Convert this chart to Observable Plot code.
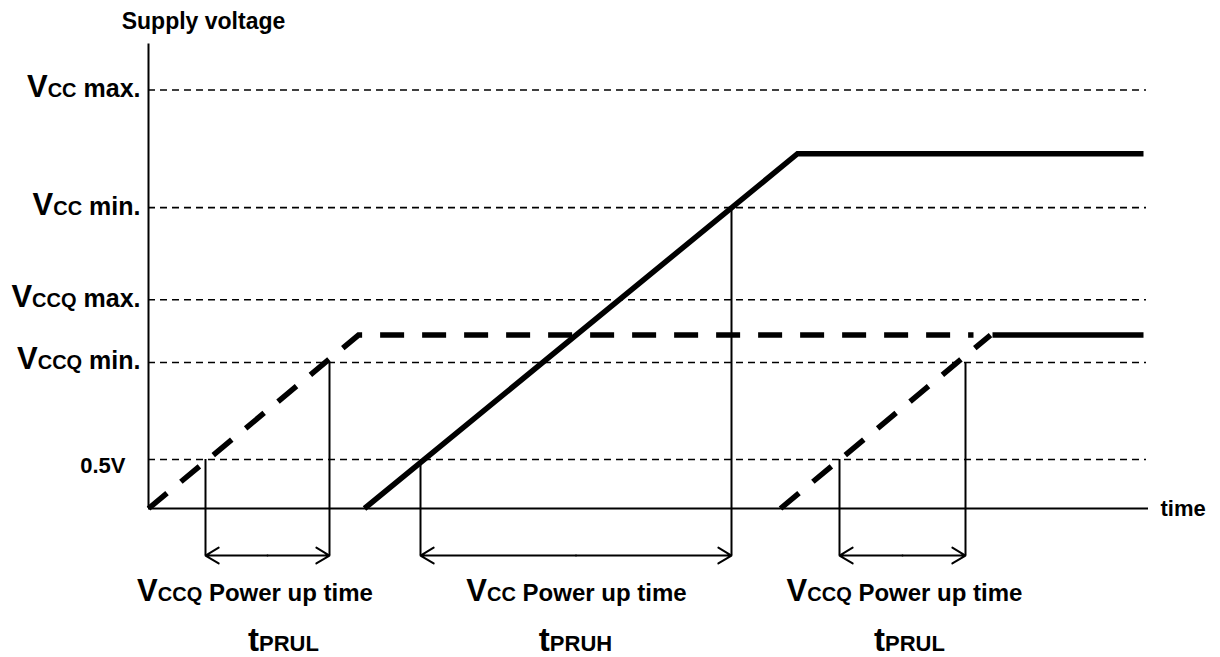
<!DOCTYPE html>
<html><head><meta charset="utf-8">
<script src="https://cdn.jsdelivr.net/npm/d3@7"></script>
<script src="https://cdn.jsdelivr.net/npm/@observablehq/plot@0.6"></script>
<style>body{margin:0;background:#fff;} svg{display:block}</style>
</head><body><div id="chart"></div>
<script>
// ---- data (time in arbitrary units 0..100, voltage in arbitrary units) ----
const levelMain = ["V", "V", "V", "V"];
const levelSub = ["CC", "CC", "CCQ", "CCQ"];
const levelRest = [" max.", " min.", " max.", " min."];
const levelVolts = [4.27, 3.07, 2.13, 1.49];
const halfVoltLabel = "0.5V";
const halfVolt = 0.5;

const vccTime = [21.6, 64.9, 99.5];
const vccVolt = [0, 3.62, 3.62];
const vccq1Time = [0, 21.0, 82.5];
const vccq1Volt = [0, 1.77, 1.77];
const vccq2RampTime = [63.2, 84.2];
const vccq2RampVolt = [0, 1.77];
const vccq2HoldTime = [84.4, 99.5];
const vccq2HoldVolt = [1.77, 1.77];

const markerTime = [5.7, 18.1, 27.2, 58.3, 69.1, 81.7];
const markerVolt = [0.5, 1.49, 0.5, 3.07, 0.5, 1.49];
const spanStart = [5.7, 27.2, 69.1];
const spanEnd = [18.1, 58.3, 81.7];

const windowMain = ["V", "V", "V"];
const windowSub = ["CCQ", "CC", "CCQ"];
const windowRest = [" Power up time", " Power up time", " Power up time"];
const windowCenter = [10.65, 42.8, 75.6];
const paramMain = ["t", "t", "t"];
const paramSub = ["PRUL", "PRUH", "PRUL"];
const paramCenter = [13.5, 42.7, 76.1];

const yTitle = "Supply voltage";
const xTitle = "time";

// ---- layout constants ----
const arrowLevel = -0.48;
const windowLevel = -0.94;
const paramLevel = -1.45;
const axisTop = 4.74;
const axisEnd = 100;

const pts = (ts, vs) => ts.map((t, i) => ({t, v: vs[i]}));
const arrowsData = [];
spanStart.forEach((a, i) => {
  const m = (a + spanEnd[i]) / 2;
  arrowsData.push({x1: m, x2: a});
  arrowsData.push({x1: m, x2: spanEnd[i]});
});

const richMap = new Map();
levelMain.forEach((m, i) => richMap.set(m + levelSub[i] + levelRest[i], [[m, 31], [levelSub[i], 20], [levelRest[i], 25]]));
windowMain.forEach((m, i) => richMap.set(m + windowSub[i] + windowRest[i], [[m, 31], [windowSub[i], 20], [windowRest[i], 24]]));
paramMain.forEach((m, i) => richMap.set(m + paramSub[i], [[m, 33], [paramSub[i], 22]]));

const thick = {stroke: "black", strokeWidth: 5.5, strokeLinecap: "butt", strokeLinejoin: "miter", strokeMiterlimit: 4};

const chart = Plot.plot({
  width: 1220, height: 657, margin: 0,
  x: {domain: [0, 100], range: [148, 1148], axis: null},
  y: {domain: [0, 5], range: [508, 18], axis: null},
  style: {fontFamily: "'Liberation Sans', Arial, sans-serif", background: "#fff", overflow: "visible", color: "black"},
  marks: [
    Plot.ruleY(levelVolts.concat([halfVolt]), {x1: 0, x2: 99.8, stroke: "black", strokeWidth: 1.6, strokeDasharray: "7,5"}),
    Plot.ruleX([0], {y1: 0, y2: axisTop, stroke: "black", strokeWidth: 2}),
    Plot.ruleY([0], {x1: 0, x2: axisEnd, stroke: "black", strokeWidth: 2}),
    Plot.ruleX(d3.range(markerTime.length), {x: i => markerTime[i], y1: i => markerVolt[i], y2: arrowLevel, stroke: "black", strokeWidth: 2}),
    Plot.arrow(arrowsData, {x1: "x1", x2: "x2", y1: arrowLevel, y2: arrowLevel, stroke: "black", strokeWidth: 2, headAngle: 62, headLength: 11.5}),
    Plot.line(pts(vccq1Time, vccq1Volt), {x: "t", y: "v", ...thick, strokeDasharray: "24,18"}),
    Plot.line(pts(vccq2RampTime, vccq2RampVolt), {x: "t", y: "v", ...thick, strokeDasharray: "24,18"}),
    Plot.line(pts(vccq2HoldTime, vccq2HoldVolt), {x: "t", y: "v", ...thick}),
    Plot.line(pts(vccTime, vccVolt), {x: "t", y: "v", ...thick}),
    Plot.text(d3.range(levelVolts.length), {x: -0.8, y: i => levelVolts[i], text: i => levelMain[i] + levelSub[i] + levelRest[i], textAnchor: "end", lineAnchor: "bottom", dy: 7, fontSize: 25, fontWeight: "bold", fill: "black"}),
    Plot.text([halfVoltLabel], {x: -2.3, y: halfVolt, text: d => d, textAnchor: "end", lineAnchor: "bottom", dy: 13, fontSize: 22, fontWeight: "bold", fill: "black"}),
    Plot.text(d3.range(3), {x: i => windowCenter[i], y: windowLevel, text: i => windowMain[i] + windowSub[i] + windowRest[i], textAnchor: "middle", lineAnchor: "bottom", fontSize: 24, fontWeight: "bold", fill: "black"}),
    Plot.text(d3.range(3), {x: i => paramCenter[i], y: paramLevel, text: i => paramMain[i] + paramSub[i], textAnchor: "middle", lineAnchor: "bottom", fontSize: 22, fontWeight: "bold", fill: "black"}),
    Plot.text([yTitle], {x: 5.5, y: 4.89, text: d => d, textAnchor: "middle", lineAnchor: "bottom", fontSize: 23, fontWeight: "bold", fill: "black"}),
    Plot.text([xTitle], {x: 101.2, y: 0, text: d => d, textAnchor: "start", lineAnchor: "middle", fontSize: 22, fontWeight: "bold", fill: "black"})
  ]
});

chart.querySelectorAll("text").forEach(t => {
  const parts = richMap.get(t.textContent);
  if (!parts) return;
  t.textContent = "";
  for (const [s, size] of parts) {
    const ts = document.createElementNS("http://www.w3.org/2000/svg", "tspan");
    ts.setAttribute("font-size", size);
    ts.textContent = s;
    t.appendChild(ts);
  }
});
document.getElementById("chart").appendChild(chart);
</script></body></html>
